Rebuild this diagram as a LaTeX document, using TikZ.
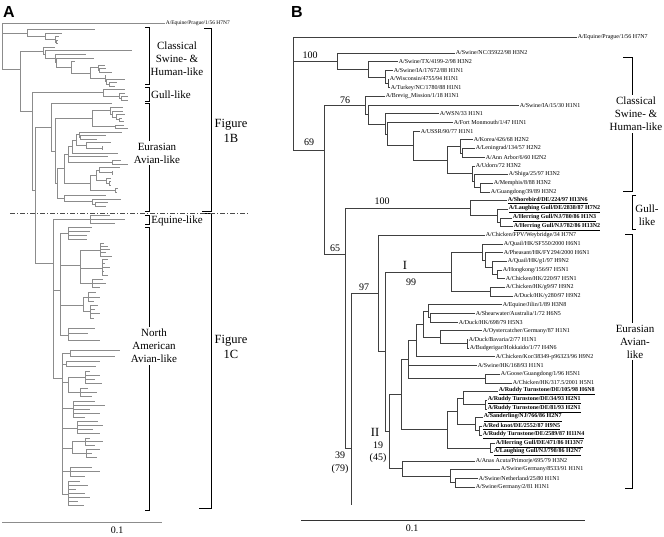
\documentclass[tikz,border=0pt]{standalone}
\usepackage{fontspec}
\setmainfont{Liberation Serif}
\newfontfamily\panelfont{Liberation Sans}
\usepackage{tikz}

\newcommand{\ulbold}[1]{\underline{\textbf{#1}}}

\newcommand{\leaflist}{455/{A/Swine/NC/35922/98 H3N2}, 398/{A/Swine/TX/4199-2/98 H3N2},
  393/{A/Swine/IA/17672/88 H1N1}, 389/{A/Wisconsin/4755/94 H1N1}, 390/{A/Turkey/NC/1780/88 H1N1},
  385/{A/Brevig\_Mission/1/18 H1N1}, 519/{A/Swine/IA/15/30 H1N1}, 439/{A/WSN/33 H1N1},
  453/{A/Fort Monmouth/1/47 H1N1}, 420/{A/USSR/90/77 H1N1}, 473/{A/Korea/426/68 H2N2},
  475/{A/Leningrad/134/57 H2N2}, 485/{A/Ann Arbor/6/60 H2N2}, 475/{A/Udorn/72 H3N2},
  508/{A/Shiga/25/97 H3N2}, 493/{A/Memphis/8/88 H3N2}, 490/{A/Guangdong/39/89 H3N2},
  507/{\ulbold{A/Shorebird/DE/224/97 H13N6}}, 508/{\ulbold{A/Laughing Gull/DE/2838/87 H7N2}},
  512/{\ulbold{A/Herring Gull/NJ/780/86 H1N3}}, 513/{\ulbold{A/Herring Gull/NJ/782/86 H13N2}},
  485/{A/Chicken/FPV/Weybridge/34 H7N7}, 503/{A/Quail/HK/SF550/2000 H6N1},
  503/{A/Pheasant/HK/FY294/2000 H6N1}, 507/{A/Quail/HK/g1/97 H9N2}, 502/{A/Hongkong/156/97 H5N1},
  505/{A/Chicken/HK/220/97 H5N1}, 505/{A/Chicken/HK/g9/97 H9N2}, 513/{A/Duck/HK/y280/97 H9N2},
  502/{A/Equine/Jilin/1/89 H3N8}, 475/{A/Shearwater/Australia/1/72 H6N5}, 458/{A/Duck/HK/698/79 H5N3},
  482/{A/Oystercatcher/Germany/87 H1N1}, 468/{A/Duck/Bavaria/2/77 H1N1},
  469/{A/Budgerigar/Hokkaido/1/77 H4N6}, 495/{A/Chicken/Kor/38349-p96323/96 H9N2},
  477/{A/Swine/HK/168/93 H1N1}, 500/{A/Goose/Guangdong/1/96 H5N1}, 512/{A/Chicken/HK/317.5/2001 H5N1},
  498/{\ulbold{A/Ruddy Turnstone/DE/105/98 H6N8}}, 487/{\ulbold{A/Ruddy Turnstone/DE/34/93 H2N1}},
  487/{\ulbold{A/Ruddy Turnstone/DE/81/93 H2N1}}, 483/{\ulbold{A/Sanderling/NJ/766/86 H2N7}},
  482/{\ulbold{A/Red knot/DE/2552/87 H9N5}}, 482/{\ulbold{A/Ruddy Turnstone/DE/2589/87 H11N4}},
  495/{\ulbold{A/Herring Gull/DE/471/86 H13N7}}, 493/{\ulbold{A/Laughing Gull/NJ/798/86 H2N7}},
  475/{A/Anas Acuta/Primorje/695/79 H3N2}, 500/{A/Swine/Germany/8533/91 H1N1},
  478/{A/Swine/Netherland/25/80 H1N1}, 475/{A/Swine/Germany/2/81 H1N1}}

\newcommand{\treenodes}{%
  \coordinate (root) at (293,93);
  \coordinate (l0) at (577,37);
  \coordinate (S1) at (337,61.15); \coordinate (S2) at (368,69.3);
  \coordinate (S3) at (385,76.9); \coordinate (S4) at (388,83.35);
  \coordinate (N69) at (324,150); \coordinate (N76) at (365,105.45);
  \coordinate (Na) at (368,114.5); \coordinate (Nb) at (385,123.9);
  \coordinate (Nc) at (387,133.95); \coordinate (Nd) at (413,145.5);
  \coordinate (Ne) at (447,159.85); \coordinate (Nf) at (460,146.3);
  \coordinate (Nf2) at (462,152.85); \coordinate (Ng) at (472,173.4);
  \coordinate (Ng2) at (474,181); \coordinate (Ng3) at (480,187.55);
  \coordinate (N65) at (345,254); \coordinate (G1) at (470,208.2);
  \coordinate (G2) at (497,215.7); \coordinate (G3) at (500,222.25);
  \coordinate (N39) at (351,448); \coordinate (cont) at (351,505);
  \coordinate (N97) at (378,293.5); \coordinate (NI2) at (385,351.7);
  \coordinate (NI) at (451,271.9); \coordinate (Ia) at (482,252.1);
  \coordinate (Ia2) at (485,260.2); \coordinate (Ia3) at (492,267.8);
  \coordinate (Ia4) at (497,274.35); \coordinate (Ib) at (490,291.7);
  \coordinate (NII) at (389,431.5); \coordinate (E2) at (401,394.5);
  \coordinate (E3) at (408,359.5); \coordinate (nB) at (416,340.5);
  \coordinate (nC) at (423,324.25); \coordinate (nD) at (428,311.2);
  \coordinate (nD2) at (430,317.75); \coordinate (nE) at (440,337.3);
  \coordinate (nE2) at (467,343.75); \coordinate (GC) at (485,378.5);
  \coordinate (R0) at (447,429.5); \coordinate (R1) at (457,411.05);
  \coordinate (R2) at (463,398); \coordinate (R3) at (485,404.55);
  \coordinate (R4) at (475,424.1); \coordinate (R5) at (479,430.55);
  \coordinate (R6) at (490,447.95);
  \coordinate (An) at (402,468.55); \coordinate (An2) at (450,476.1);
  \coordinate (An3) at (455,482.65);
}

\newcommand{\treeedges}[1]{%
  \foreach \p/\c in {root/l0, root/S1, root/N69,
    S1/l1, S1/S2, S2/l2, S2/S3, S3/l3, S3/S4, S4/l4, S4/l5,
    N69/N76, N69/N65, N76/l6, N76/Na, Na/l7, Na/Nb, Nb/l8, Nb/Nc, Nc/l9, Nc/Nd,
    Nd/l10, Nd/Ne, Ne/Nf, Ne/Ng, Nf/l11, Nf/Nf2, Nf2/l12, Nf2/l13,
    Ng/l14, Ng/Ng2, Ng2/l15, Ng2/Ng3, Ng3/l16, Ng3/l17,
    N65/G1, N65/N39, G1/l18, G1/G2, G2/l19, G2/G3, G3/l20, G3/l21,
    N39/N97, N39/cont, N97/l22, N97/NI2, NI2/NI, NI2/NII,
    NI/Ia, NI/Ib, Ia/l23, Ia/Ia2, Ia2/l24, Ia2/Ia3, Ia3/l25, Ia3/Ia4,
    Ia4/l26, Ia4/l27, Ib/l28, Ib/l29,
    NII/E2, NII/An, E2/E3, E2/R0, E3/nB, E3/l37, E3/GC, nB/nC, nB/l36,
    nC/nD, nC/nE, nD/l30, nD/nD2, nD2/l31, nD2/l32, nE/l33, nE/nE2,
    nE2/l34, nE2/l35, GC/l38, GC/l39,
    R0/R1, R0/R6, R1/R2, R1/R4, R2/l40, R2/R3, R3/l41, R3/l42,
    R4/l43, R4/R5, R5/l44, R5/l45, R6/l46, R6/l47,
    An/l48, An/An2, An2/l49, An2/An3, An3/l50, An3/l51}
    {\draw[#1] (\p) |- (\c);}%
}

\begin{document}
\begin{tikzpicture}[
  x=1pt, y=-1pt,
  leaf/.style={anchor=west, inner sep=0.6pt, font=\fontsize{6}{7}\selectfont},
  btree/.style={draw=black!75, line width=0.6pt},
  atree/.style={draw=black!45, line width=0.45pt},
  boot/.style={inner sep=0pt, font=\fontsize{10}{11}\selectfont},
  roman/.style={inner sep=0pt, font=\fontsize{12.5}{13}\selectfont},
  clade/.style={align=center, inner sep=2pt, fill=white, font=\fontsize{11}{13}\selectfont},
  figlab/.style={align=center, inner sep=1pt, font=\fontsize{12.5}{15}\selectfont},
  brk/.style={draw=black, line width=1pt},
  cutline/.style={draw=black!70, line width=0.8pt, dash pattern=on 5pt off 2pt on 1pt off 2pt},
  panel/.style={inner sep=0pt, font=\panelfont\bfseries\fontsize{16}{16}\selectfont},
  barA/.style={draw=black!45, line width=0.9pt},
  barB/.style={draw=black!80, line width=0.8pt}
]
\useasboundingbox (0,0) rectangle (664,537);

\node[panel] (pA) at (9,12) {A};
\node[panel] (pB) at (297,12) {B};

% panel B
\treenodes
\foreach \xe/\txt [count=\i] in \leaflist {
  \coordinate (l\i) at (\xe,53+8.68*\i-8.68);
  \node[leaf] (t\i) at (l\i) {\txt};
}
\node[leaf] (t0) at (l0) {A/Equine/Prague/1/56 H7N7};
\treeedges{btree}

\node[boot] (b100a) at (310,55.5) {100};
\node[boot] (b69) at (309,142) {69};
\node[boot] (b76) at (345,100) {76};
\node[boot] (b100b) at (382,201) {100};
\node[boot] (b65) at (335,248.5) {65};
\node[boot] (b97) at (364,287) {97};
\node[roman] (cI) at (405,265) {I};
\node[boot] (b99) at (411,282) {99};
\node[roman] (cII) at (375,432) {II};
\node[boot] (b19) at (378,445) {19};
\node[boot] (b45) at (378,458) {(45)};
\node[boot] (b39) at (340,455) {39};
\node[boot] (b79) at (340,469) {(79)};

\draw[brk] (623,58) -- (632,58) -- (632,192) -- (623,192);
\node[clade] (csB) at (636,114) {Classical\\Swine- \&\\Human-like};
\draw[brk] (636,196) -- (632,196) -- (632,230) -- (636,230);
\node[clade, fill=none] (glB) at (647,215) {Gull-\\like};
\draw[brk] (625,235) -- (632,235) -- (632,488) -- (625,488);
\node[clade] (euB) at (635,341.5) {Eurasian\\Avian-\\like};

\coordinate (barB1) at (301,520);
\coordinate (barB2) at (585,520);
\draw[barB] (barB1) -- (barB2);
\node[boot] (sB) at (412,528) {0.1};

% panel A
\begin{scope}[name prefix=a-, xshift=2pt, yshift=-23pt, xscale=0.574, yscale=0.407,
    xshift=-293pt, yshift=37pt]
  \treenodes
  \foreach \xe/\txt [count=\i] in \leaflist {\coordinate (l\i) at (\xe,53+8.68*\i-8.68);}
  \treeedges{atree}
\end{scope}
\node[leaf, font=\fontsize{5.5}{6}\selectfont] (eqA) at (a-l0) {A/Equine/Prague/1/56 H7N7};

\coordinate (na0) at (53,263); \coordinate (eqc) at (90,219);
\coordinate (nc) at (60,290); \coordinate (ca) at (68,233);
\coordinate (cb) at (80,265); \coordinate (cb1) at (100,250);
\coordinate (cb2) at (102,268); \coordinate (cb3) at (92,283);
\coordinate (cc) at (83,305); \coordinate (cc1) at (88,297);
\coordinate (cc2) at (90,311); \coordinate (cd) at (68,335);
\coordinate (nb) at (62,378); \coordinate (n1) at (70,353);
\coordinate (n2) at (66,364); \coordinate (n3) at (68,382);
\coordinate (n3a) at (85,377); \coordinate (n3b) at (80,392);
\coordinate (n4) at (73,408); \coordinate (n5) at (77,428);
\coordinate (n6) at (72,448); \coordinate (n6a) at (85,441);
\coordinate (n6b) at (86,453); \coordinate (n7) at (70,471);
\coordinate (n8) at (68,494);
\draw[atree] (a-cont) |- (na0);
\foreach \p/\c in {na0/eqc, na0/nc, na0/nb, nc/ca, nc/cb, nc/cc, nc/cd,
  cb/cb1, cb/cb2, cb/cb3, cc/cc1, cc/cc2, nb/n1, nb/n2, nb/n3, nb/n4,
  nb/n5, nb/n6, nb/n7, nb/n8, n3/n3a, n3/n3b, n6/n6a, n6/n6b}
  {\draw[atree] (\p) |- (\c);}
\foreach \p/\xe/\ye [count=\k] in {eqc/110/215, eqc/125/219, eqc/115/223,
  ca/92/227, ca/90/231, ca/87/235, ca/87/239,
  cb1/104/243, cb1/108/246, cb1/110/249, cb1/106/252, cb1/112/256,
  cb2/108/259, cb2/105/263, cb2/110/267, cb2/104/271, cb2/108/275,
  cb3/103/279, cb3/106/283, cb3/100/287,
  cc1/96/292, cc1/100/297, cc1/94/301,
  cc2/98/305, cc2/95/309, cc2/100/313, cc2/94/318,
  cd/95/328, cd/88/333, cd/100/340,
  n1/120/350, n1/115/356, n2/100/361, n2/96/366,
  n3a/90/371, n3a/100/375, n3a/95/379, n3a/102/383,
  n3b/88/388, n3b/97/392, n3b/92/396,
  n4/95/401, n4/105/405, n4/90/409, n4/100/413, n4/85/417,
  n5/98/421, n5/103/425, n5/93/429, n5/100/433,
  n6a/90/438, n6a/103/441, n6a/95/445,
  n6b/100/449, n6b/92/453, n6b/97/457,
  n7/92/467, n7/100/471, n7/85/476,
  n8/80/481, n8/88/485, n8/76/489, n8/85/493, n8/90/497, n8/78/501, n8/84/505}
  {\coordinate (nl\k) at (\xe,\ye); \draw[atree] (\p) |- (nl\k);}

\draw[brk] (145,28) -- (149,28) -- (149,85) -- (145,85);
\node[clade, fill=none] (csA) at (177,59) {Classical\\Swine- \&\\Human-like};
\draw[brk] (145,88) -- (149,88) -- (149,102) -- (145,102);
\node[clade, fill=none] (glA) at (171,95) {Gull-like};
\draw[brk] (145,104) -- (149,104) -- (149,212) -- (145,212);
\node[clade] (euA) at (157,153) {Eurasian\\Avian-like};
\draw[brk] (145,216) -- (149,216) -- (149,225) -- (145,225);
\node[clade, fill=none] (eqlA) at (177,221) {Equine-like};
\draw[brk] (145,228) -- (149,228) -- (149,510) -- (145,510);
\node[clade] (naA) at (154,346) {North\\American\\Avian-like};

\draw[brk] (204,29) -- (211,29) -- (211,212) -- (202,212);
\node[figlab] (f1B) at (231,131) {Figure\\1B};
\draw[brk] (202,214) -- (211,214) -- (211,508) -- (199,508);
\node[figlab] (f1C) at (231,347) {Figure\\1C};

\coordinate (cutL) at (10,213);
\coordinate (cutR) at (248,213);
\draw[cutline] (cutL) -- (cutR);

\coordinate (barA1) at (2,522);
\coordinate (barA2) at (162,522);
\draw[barA] (barA1) -- (barA2);
\node[boot] (sA) at (117,530) {0.1};
\end{tikzpicture}
\end{document}
